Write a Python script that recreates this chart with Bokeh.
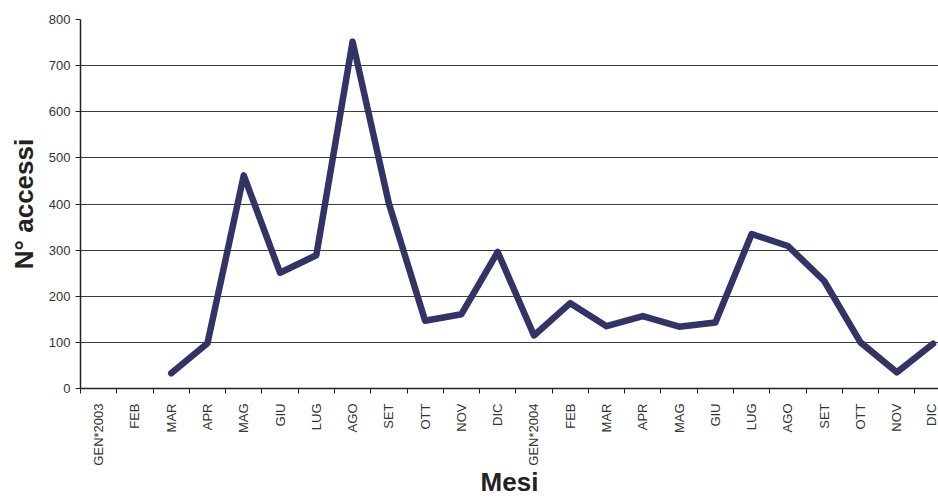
import math
from bokeh.plotting import figure
from bokeh.models import Range1d, FixedTicker, ColumnDataSource
from bokeh.embed import file_html
from bokeh.resources import INLINE

months = ["GEN*2003", "FEB", "MAR", "APR", "MAG", "GIU", "LUG", "AGO", "SET", "OTT", "NOV", "DIC",
          "GEN*2004", "FEB", "MAR", "APR", "MAG", "GIU", "LUG", "AGO", "SET", "OTT", "NOV", "DIC"]
nan = float("nan")
accessi = [nan, nan, 33, 98, 462, 251, 289, 752, 401, 147, 161, 296,
           115, 185, 135, 157, 134, 143, 335, 309, 233, 100, 35, 97]
y_ticks = [0, 100, 200, 300, 400, 500, 600, 700, 800]

x_idx = list(range(len(months)))
src = ColumnDataSource(data=dict(x=x_idx, y=accessi, m=months))

FONT = "Liberation Sans"

p = figure(width=938, height=499, output_backend="svg", toolbar_location=None,
           x_range=Range1d(-0.5, 23.15), y_range=Range1d(y_ticks[0], y_ticks[-1]),
           min_border_left=80, min_border_right=0, min_border_top=19, min_border_bottom=111,
           background_fill_color="white", border_fill_color="white")
p.outline_line_color = None

p.line(x="x", y="y", source=src, line_color="#333366", line_width=6.5,
       line_join="round", line_cap="round")

# grid
p.xgrid.visible = False
p.ygrid.ticker = FixedTicker(ticks=y_ticks)
p.ygrid.grid_line_color = "#3c3c3c"
p.ygrid.grid_line_width = 1

# y axis
ya = p.yaxis[0]
ya.ticker = FixedTicker(ticks=y_ticks)
ya.major_tick_out = 5
ya.major_tick_in = 0
ya.minor_tick_out = 0
ya.minor_tick_in = 0
ya.axis_line_color = "#222222"
ya.axis_line_width = 1.5
ya.major_tick_line_color = "#222222"
ya.major_label_text_font = FONT
ya.major_label_text_font_size = "13px"
ya.major_label_text_color = "#333333"
ya.major_label_standoff = 5
ya.axis_label = "N° accessi"
ya.axis_label_text_font = FONT
ya.axis_label_text_font_size = "26px"
ya.axis_label_text_font_style = "bold"
ya.axis_label_text_color = "#222222"
ya.axis_label_standoff = 7

# x axis: labels at category centres, ticks at boundaries
xa = p.xaxis[0]
xa.ticker = FixedTicker(ticks=x_idx, minor_ticks=[i - 0.5 for i in range(len(months) + 1)])
xa.major_label_overrides = {i: m for i, m in enumerate(months)}
xa.major_tick_out = 0
xa.major_tick_in = 0
xa.minor_tick_out = 5
xa.minor_tick_in = 0
xa.minor_tick_line_color = "#222222"
xa.axis_line_color = "#222222"
xa.axis_line_width = 1.5
xa.major_label_orientation = math.pi / 2
xa.major_label_text_font = FONT
xa.major_label_text_font_size = "13px"
xa.major_label_text_color = "#333333"
xa.major_label_standoff = 10
xa.axis_label = "Mesi"
xa.axis_label_text_font = FONT
xa.axis_label_text_font_size = "26px"
xa.axis_label_text_font_style = "bold"
xa.axis_label_text_color = "#222222"
xa.axis_label_standoff = -2

open("out.html", "w").write(file_html(p, INLINE))
